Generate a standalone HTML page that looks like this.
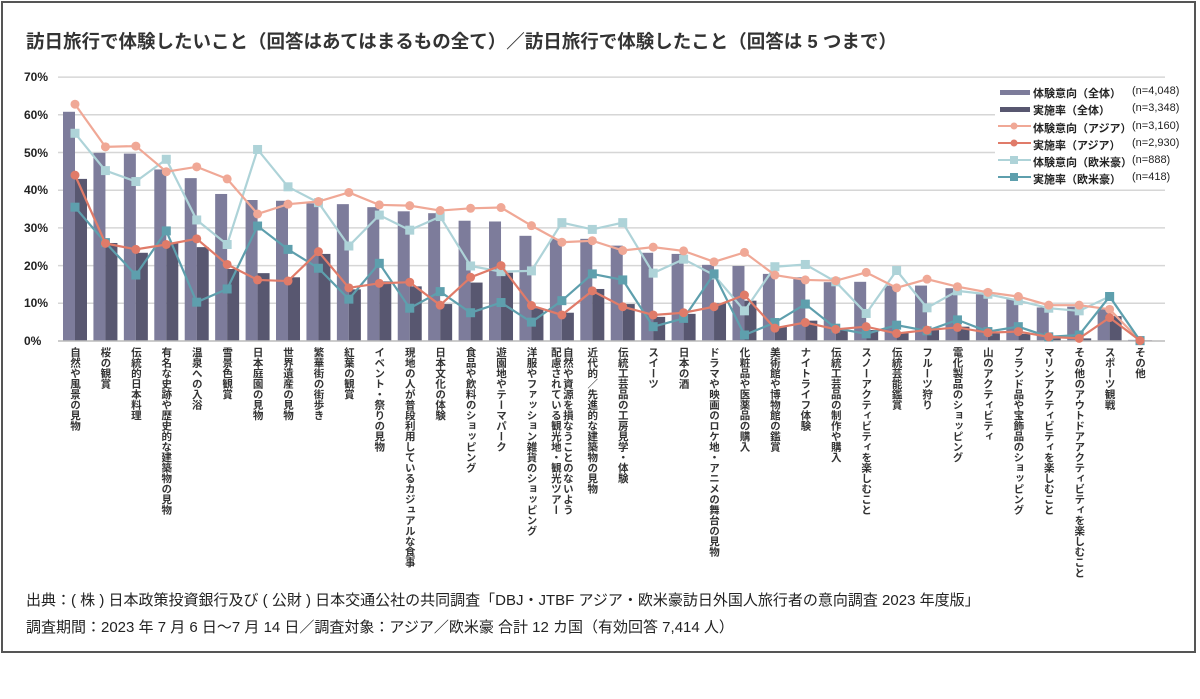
<!DOCTYPE html>
<html><head><meta charset="utf-8">
<style>
body{margin:0;background:#fff;}
#w{position:relative;width:1200px;height:699px;overflow:hidden;background:#fff;font-family:"Liberation Sans","Noto Sans CJK JP",sans-serif;}
#frame{position:absolute;left:1px;top:1px;width:1195px;height:652px;border:2px solid #555;box-sizing:border-box;}
.t{position:absolute;white-space:nowrap;color:#222;}
.lab{position:absolute;top:347px;writing-mode:vertical-rl;font-size:10.5px;line-height:12px;font-weight:bold;color:#333;white-space:nowrap;font-family:"Liberation Sans","Noto Sans CJK JP",sans-serif;}
.yl{position:absolute;left:24px;font-size:12px;font-weight:bold;color:#222;}
.lg{position:absolute;font-size:11px;color:#222;white-space:nowrap;}
</style></head><body>
<div id="w">
<div id="frame"></div>
<div class="t" style="left:26px;top:28px;font-size:18.5px;font-weight:bold;color:#333;">訪日旅行で体験したいこと（回答はあてはまるもの全て）／訪日旅行で体験したこと（回答は 5 つまで）</div>
<svg id="s" width="1200" height="699" style="position:absolute;left:0;top:0"></svg>
<div class="yl" style="top:70px">70%</div>
<div class="yl" style="top:108px">60%</div>
<div class="yl" style="top:146px">50%</div>
<div class="yl" style="top:183px">40%</div>
<div class="yl" style="top:221px">30%</div>
<div class="yl" style="top:259px">20%</div>
<div class="yl" style="top:296px">10%</div>
<div class="yl" style="top:334px">0%</div>
<div id="labs">
<div class="lab">自然や風景の見物</div>
<div class="lab">桜の観賞</div>
<div class="lab">伝統的日本料理</div>
<div class="lab">有名な史跡や歴史的な建築物の見物</div>
<div class="lab">温泉への入浴</div>
<div class="lab">雪景色観賞</div>
<div class="lab">日本庭園の見物</div>
<div class="lab">世界遺産の見物</div>
<div class="lab">繁華街の街歩き</div>
<div class="lab">紅葉の観賞</div>
<div class="lab">イベント・祭りの見物</div>
<div class="lab">現地の人が普段利用しているカジュアルな食事</div>
<div class="lab">日本文化の体験</div>
<div class="lab">食品や飲料のショッピング</div>
<div class="lab">遊園地やテーマパーク</div>
<div class="lab">洋服やファッション雑貨のショッピング</div>
<div class="lab">自然や資源を損なうことのないよう<br>配慮されている観光地・観光ツアー</div>
<div class="lab">近代的／先進的な建築物の見物</div>
<div class="lab">伝統工芸品の工房見学・体験</div>
<div class="lab">スイーツ</div>
<div class="lab">日本の酒</div>
<div class="lab">ドラマや映画のロケ地・アニメの舞台の見物</div>
<div class="lab">化粧品や医薬品の購入</div>
<div class="lab">美術館や博物館の鑑賞</div>
<div class="lab">ナイトライフ体験</div>
<div class="lab">伝統工芸品の制作や購入</div>
<div class="lab">スノーアクティビティを楽しむこと</div>
<div class="lab">伝統芸能鑑賞</div>
<div class="lab">フルーツ狩り</div>
<div class="lab">電化製品のショッピング</div>
<div class="lab">山のアクティビティ</div>
<div class="lab">ブランド品や宝飾品のショッピング</div>
<div class="lab">マリンアクティビティを楽しむこと</div>
<div class="lab">その他のアウトドアアクティビティを楽しむこと</div>
<div class="lab">スポーツ観戦</div>
<div class="lab">その他</div>
</div>
<div class="lg" style="left:1033px;top:85px;font-weight:bold">体験意向（全体）</div><div class="lg" style="left:1132px;top:85px">(n=4,048)</div>
<div class="lg" style="left:1033px;top:102px;font-weight:bold">実施率（全体）</div><div class="lg" style="left:1132px;top:102px">(n=3,348)</div>
<div class="lg" style="left:1033px;top:120px;font-weight:bold">体験意向（アジア）</div><div class="lg" style="left:1132px;top:120px">(n=3,160)</div>
<div class="lg" style="left:1033px;top:137px;font-weight:bold">実施率（アジア）</div><div class="lg" style="left:1132px;top:137px">(n=2,930)</div>
<div class="lg" style="left:1033px;top:154px;font-weight:bold">体験意向（欧米豪）</div><div class="lg" style="left:1132px;top:154px">(n=888)</div>
<div class="lg" style="left:1033px;top:171px;font-weight:bold">実施率（欧米豪）</div><div class="lg" style="left:1132px;top:171px">(n=418)</div>
<div class="t" style="left:26px;top:589px;font-size:15px;">出典：( 株 ) 日本政策投資銀行及び ( 公財 ) 日本交通公社の共同調査「DBJ・JTBF アジア・欧米豪訪日外国人旅行者の意向調査 2023 年度版」</div>
<div class="t" style="left:26px;top:616px;font-size:15px;">調査期間：2023 年 7 月 6 日～7 月 14 日／調査対象：アジア／欧米豪 合計 12 カ国（有効回答 7,414 人）</div>
</div>
<script>
var L=[60.8,49.9,49.7,45.5,43.2,39,37.4,37.2,36.5,36.3,35.5,34.4,33.9,31.9,31.7,27.9,27.1,27.1,25.3,23.4,23.1,20.2,19.9,17.8,16.9,15.6,15.7,14.7,14.7,14.0,12.4,11.1,8.9,9.1,8.4,0.3];
var D=[43,26,23.4,25.9,24.9,19.1,18,16.9,23.1,13.7,15.8,14.5,9.8,15.5,18.1,8.7,7.5,13.8,9.8,6.4,7.2,10,10.7,3.8,5.4,2.9,2.9,2.1,2.9,3.8,2.0,1.9,0.7,0.7,6.6,0.2];
var AI=[62.8,51.5,51.7,44.9,46.2,43,33.7,36.3,37,39.4,36.1,35.9,34.6,35.2,35.4,30.6,26.2,26.6,24,24.9,23.9,21,23.5,17.5,16.2,16,18.2,14.1,16.4,14.4,12.9,11.8,9.5,9.5,8.4,0.1];
var AR=[44,25.9,24.3,25.6,27.1,20.3,16.2,15.9,23.7,14.1,15.3,15.6,9.5,16.9,20,9.4,6.9,13.3,9.1,6.9,7.5,9.1,12.2,3.4,4.9,3.1,3.8,2.0,2.9,3.6,2.2,2.5,1.1,0.7,6.2,0.1];
var EI=[55.1,45.2,42.3,48.2,32.1,25.6,50.8,40.9,36.7,25.2,33.4,29.4,33,19.9,18.4,18.6,31.4,29.6,31.4,18,21.7,17.5,8,19.7,20.3,15.7,7.3,18.7,8.8,13.3,12.4,10.7,8.7,8,11.8,0.1];
var ER=[35.5,26.1,17.5,29.2,10.3,13.8,30.5,24.3,19.3,11.1,20.6,8.7,13.1,7.5,10.2,5,10.7,17.8,16.2,3.8,6,17.8,1.6,4.9,9.8,3.4,1.9,4.2,2.7,5.6,2.5,3.8,1.1,1.6,11.8,0.1];
var s=document.getElementById('s'),h='';
function X(i){return 75+30.43*i}
function Y(v){return 341-v*3.77}
for(var g=1;g<=7;g++){var y=Y(g*10);h+='<line x1="58" x2="1165" y1="'+y+'" y2="'+y+'" stroke="#d6d6d6" stroke-width="1.5"/>';}
for(var i=0;i<36;i++){var c=X(i);
h+='<rect x="'+(c-12)+'" y="'+Y(L[i])+'" width="12" height="'+(L[i]*3.77)+'" fill="#7d7c9b"/>';
h+='<rect x="'+c+'" y="'+Y(D[i])+'" width="12" height="'+(D[i]*3.77)+'" fill="#585770"/>';}
h+='<line x1="58" x2="1165" y1="341" y2="341" stroke="#bbb" stroke-width="1.5"/>';
function line(a,col,sq){var p=a.map(function(v,i){return X(i)+','+Y(v)}).join(' ');
var r='<polyline points="'+p+'" fill="none" stroke="'+col+'" stroke-width="2.2"/>';
a.forEach(function(v,i){r+=sq?'<rect x="'+(X(i)-4.5)+'" y="'+(Y(v)-4.5)+'" width="9" height="9" fill="'+col+'"/>':'<circle cx="'+X(i)+'" cy="'+Y(v)+'" r="4.5" fill="'+col+'"/>';});return r;}
h+=line(EI,'#aed3d8',1)+line(AI,'#f0a896',0)+line(ER,'#5e9fad',1)+line(AR,'#e07b69',0);
h+='<rect x="995" y="82" width="170" height="104" fill="#fff"/>';
h+='<rect x="1000" y="90" width="30" height="5" fill="#7d7c9b"/><rect x="1000" y="107" width="30" height="5" fill="#585770"/>';
var lc=[['#f0a896',0,126],['#e07b69',0,143],['#aed3d8',1,160],['#5e9fad',1,177]];
lc.forEach(function(q){h+='<line x1="998" x2="1031" y1="'+q[2]+'" y2="'+q[2]+'" stroke="'+q[0]+'" stroke-width="2"/>';h+=q[1]?'<rect x="1010" y="'+(q[2]-4)+'" width="8" height="8" fill="'+q[0]+'"/>':'<circle cx="1014" cy="'+q[2]+'" r="3.5" fill="'+q[0]+'"/>';});
s.innerHTML=h;
var labs=document.querySelectorAll('.lab');
labs.forEach(function(e,i){var w=e.offsetWidth;e.style.left=(X(i)-w/2)+'px';});
</script>
</body></html>
